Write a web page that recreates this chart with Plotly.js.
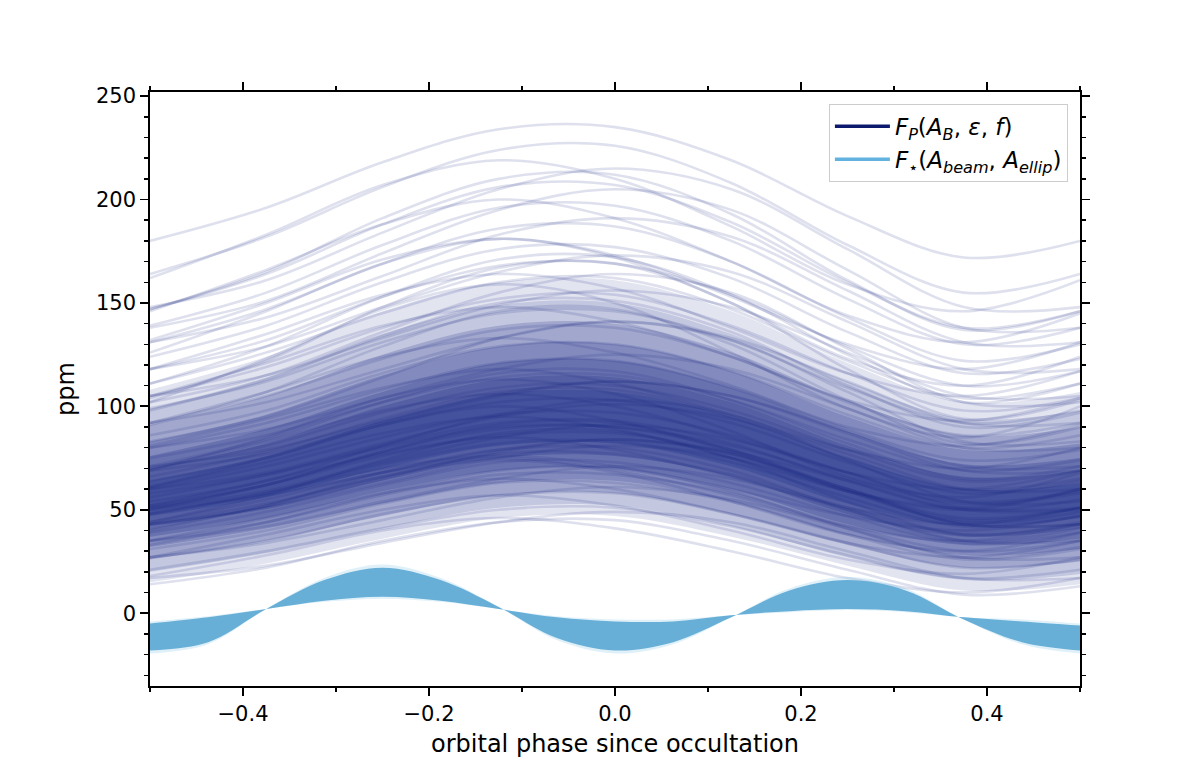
<!DOCTYPE html>
<html><head><meta charset="utf-8">
<script src="https://cdn.plot.ly/plotly-3.0.1.min.js"></script>
<style>html,body{margin:0;padding:0;background:#fff}#chart{width:1200px;height:771px}</style>
</head><body><div id="chart"></div>
<script>
// orbital phase sample points for the planet curves
const phase = [-0.5, -0.375, -0.25, -0.125, 0, 0.125, 0.25, 0.375, 0.5];

// planet phase-curve samples (ppm), sparse upper part
const planetHigh = [
[180, 196, 218, 234, 235, 219, 192, 172, 180],
[164, 182, 206, 224, 226, 208, 178, 155, 164],
[162, 183, 207, 219, 210, 187, 159, 146, 161],
[148, 161, 184, 205, 215, 205, 176, 148, 148],
[147, 165, 191, 210, 212, 193, 161, 137, 146],
[147, 164, 188, 206, 207, 189, 160, 138, 146],
[138, 151, 174, 195, 205, 195, 166, 138, 138],
[146, 166, 188, 200, 191, 170, 144, 131, 145],
[139, 155, 178, 196, 197, 180, 152, 130, 138],
[131, 143, 163, 183, 191, 182, 156, 131, 131],
[131, 147, 169, 186, 187, 170, 143, 122, 130],
[132, 150, 171, 181, 173, 153, 130, 118, 131],
[126, 146, 169, 181, 172, 150, 123, 110, 124],
[124, 139, 160, 176, 177, 162, 136, 116, 123],
[118, 129, 148, 165, 173, 165, 141, 118, 118],
[111, 129, 153, 171, 172, 154, 125, 102, 111],
[118, 132, 153, 168, 169, 154, 129, 110, 117],
[104, 122, 148, 167, 169, 150, 118, 94, 103],
[118, 135, 154, 164, 157, 138, 116, 105, 117],
[102, 115, 136, 155, 164, 155, 128, 102, 102],
[111, 126, 145, 160, 162, 147, 122, 104, 111],
[102, 123, 147, 159, 150, 126, 99, 85, 100],
[105, 115, 133, 149, 156, 148, 126, 105, 105],
[105, 119, 138, 152, 154, 139, 116, 98, 104],
[98, 113, 134, 150, 151, 136, 110, 90, 97],
[105, 121, 139, 148, 141, 124, 103, 93, 104],
[91, 107, 129, 146, 147, 130, 103, 82, 90],
[99, 112, 131, 145, 146, 132, 109, 92, 98],
[83, 95, 114, 133, 141, 132, 107, 83, 83],
[92, 102, 118, 133, 141, 133, 112, 92, 92]
];
// planet samples, middle of the distribution
const planetMid = [
[92, 105, 123, 137, 138, 124, 102, 86, 92],
[92, 107, 124, 133, 126, 110, 90, 81, 91],
[86, 98, 116, 129, 130, 117, 96, 80, 86],
[80, 89, 104, 118, 125, 118, 99, 80, 80],
[80, 92, 108, 121, 122, 109, 89, 74, 79],
[81, 94, 109, 118, 111, 96, 79, 70, 80],
[75, 86, 102, 114, 115, 103, 84, 69, 74],
[69, 77, 92, 105, 112, 105, 87, 69, 69],
[70, 81, 97, 109, 110, 98, 79, 64, 69],
[70, 83, 98, 106, 100, 85, 68, 60, 69],
[64, 75, 91, 102, 103, 92, 73, 58, 64],
[60, 68, 82, 95, 101, 94, 77, 60, 60],
[60, 71, 85, 96, 97, 86, 68, 54, 59],
[61, 73, 87, 95, 89, 75, 59, 51, 60],
[56, 67, 81, 92, 93, 82, 64, 50, 55],
[71, 79, 93, 106, 112, 105, 88, 71, 71],
[66, 78, 94, 107, 108, 95, 75, 60, 65],
[61, 75, 91, 100, 93, 78, 59, 50, 60],
[58, 67, 80, 90, 90, 81, 65, 53, 58],
[69, 85, 104, 113, 106, 88, 66, 56, 68],
[71, 84, 102, 116, 117, 103, 82, 65, 71],
[54, 64, 81, 96, 103, 96, 74, 54, 54]
];
// planet samples, lower part
const planetLow = [
[51, 59, 73, 85, 91, 84, 68, 51, 51],
[52, 62, 76, 86, 87, 77, 60, 46, 51],
[52, 64, 77, 85, 79, 66, 51, 43, 51],
[48, 58, 72, 82, 83, 73, 56, 42, 47],
[43, 51, 63, 75, 81, 75, 59, 43, 43],
[43, 53, 66, 77, 77, 67, 51, 38, 43],
[44, 55, 68, 75, 69, 57, 42, 35, 43],
[39, 49, 62, 73, 73, 63, 47, 34, 39],
[35, 42, 54, 65, 71, 65, 50, 35, 35],
[35, 44, 57, 67, 67, 58, 42, 30, 35],
[35, 46, 58, 65, 60, 48, 34, 27, 35],
[31, 40, 53, 63, 63, 54, 38, 26, 31],
[27, 34, 45, 56, 61, 55, 41, 27, 27],
[27, 35, 48, 57, 58, 48, 34, 22, 26],
[27, 38, 50, 57, 52, 40, 26, 19, 27],
[21, 30, 41, 50, 51, 42, 28, 17, 21],
[17, 23, 34, 44, 49, 44, 30, 17, 17],
[18, 28, 40, 46, 41, 30, 17, 10, 17],
[14, 22, 35, 44, 45, 35, 21, 9, 13],
[51, 62, 78, 89, 90, 79, 60, 45, 51],
[43, 51, 65, 78, 84, 77, 60, 43, 43],
[41, 52, 68, 79, 80, 69, 50, 35, 41],
[40, 52, 66, 74, 68, 54, 38, 30, 39],
[50, 62, 78, 91, 92, 79, 59, 44, 49],
[50, 57, 68, 79, 84, 78, 64, 50, 50],
[44, 57, 74, 87, 88, 75, 54, 38, 44],
[33, 44, 58, 69, 70, 59, 41, 27, 32],
[48, 58, 70, 76, 71, 60, 47, 40, 47]
];

// density envelopes of the planet curves (nested, outer to inner)
const densityLo = [
[15, 24, 36, 46, 47, 37, 23, 11, 14],
[20, 29, 41, 51, 52, 42, 27, 16, 19],
[26, 35, 47, 57, 58, 48, 33, 22, 25],
[32, 41, 53, 63, 64, 54, 38, 28, 31],
[37, 46, 59, 69, 70, 60, 43, 33, 36],
[42, 51, 64, 75, 76, 66, 48, 37, 41],
[47, 56, 70, 81, 82, 71, 53, 42, 46]
];
const densityHi = [
[108, 124, 146, 160, 161, 146, 121, 102, 107],
[99, 114, 135, 149, 150, 135, 112, 94, 98],
[91, 105, 125, 139, 140, 126, 103, 86, 90],
[83, 96, 115, 129, 130, 117, 95, 79, 82],
[76, 89, 107, 121, 122, 109, 88, 72, 75],
[70, 82, 100, 113, 114, 102, 81, 66, 69],
[64, 76, 93, 106, 107, 95, 75, 60, 63]
];
const densityAlpha = [0.12, 0.15, 0.19, 0.21, 0.23, 0.23, 0.23];

// stellar (beaming + ellipsoidal) curves
const starPhase = [-0.5, -0.4375, -0.375, -0.3125, -0.25, -0.1875, -0.125, -0.0625, 0, 0.0625, 0.125, 0.1875, 0.25, 0.3125, 0.375, 0.4375, 0.5];
const starBigAmp   = [-18, -14, 2, 16, 22, 16, 3, -12, -18, -14, -2, 11, 16, 11, -3, -14, -18];
const starSmallAmp = [-5, -2, 2, 6, 8, 6, 2, -2, -4, -4, -1, 1, 2, 1, -2, -4, -6];
const starFringeBig   = [-19.5, -15, 2, 17, 23.5, 17, 3, -13, -19.5, -15, -2, 12, 17.5, 12, -3, -15, -19.5];
const starFringeSmall = [-4, -1.5, 2, 5.5, 7, 5.5, 2, -1.5, -3, -3, -1, 0.5, 1.5, 0.5, -2, -3, -5];

const legendLabels = [
  '<i>F</i><sub><i>P</i></sub>(<i>A</i><sub><i>B</i></sub>, <i>ε</i>, <i>f</i>)',
  '<i>F</i><sub>⋆</sub>(<i>A</i><sub><i>beam</i></sub>, <i>A</i><sub><i>ellip</i></sub>)'
];

const navyRGB = '18,34,130';
const traces = [];
function band(lo, hi, xs, fillcolor) {
  traces.push({x: xs, y: lo, type: 'scatter', mode: 'lines', line: {width: 0, shape: 'spline'}, hoverinfo: 'skip', showlegend: false});
  traces.push({x: xs, y: hi, type: 'scatter', mode: 'lines', line: {width: 0, shape: 'spline'}, fill: 'tonexty', fillcolor: fillcolor, hoverinfo: 'skip', showlegend: false});
}
densityLo.forEach((lo, i) => band(lo, densityHi[i], phase, 'rgba(' + navyRGB + ',' + densityAlpha[i] + ')'));

[planetHigh, planetMid, planetLow].forEach(group => group.forEach(vals => {
  traces.push({x: phase, y: vals, type: 'scatter', mode: 'lines', line: {color: 'rgba(' + navyRGB + ',0.14)', width: 2.6, shape: 'spline'}, hoverinfo: 'skip', showlegend: false});
}));

// stellar band: faint fringe then solid core
band(starFringeSmall, starFringeBig, starPhase, 'rgba(110,185,228,0.22)');
band(starSmallAmp, starBigAmp, starPhase, 'rgb(103,175,215)');

// legend entries
traces.push({x: [null], y: [null], type: 'scatter', mode: 'lines', name: legendLabels[0], legendgroup: 'p', line: {color: 'rgb(12,26,110)', width: 3.5}});
traces.push({x: [null], y: [null], type: 'scatter', mode: 'lines', name: legendLabels[1], legendgroup: 's', line: {color: 'rgb(98,178,224)', width: 3.5}});

const axisCommon = {
  showline: true, linecolor: 'black', linewidth: 1.8, mirror: 'allticks',
  ticks: 'outside', ticklen: 8, tickwidth: 1.8, tickcolor: 'black',
  showgrid: false, zeroline: false,
  tickfont: {family: 'DejaVu Sans', size: 21, color: 'black'}
};

const layout = {
  width: 1200, height: 771,
  margin: {l: 150, r: 120, t: 92, b: 85},
  paper_bgcolor: 'white', plot_bgcolor: 'white',
  showlegend: true,
  legend: {x: 0.987, y: 0.98, xanchor: 'right', yanchor: 'top', traceorder: 'normal', tracegroupgap: 5,
    bgcolor: 'rgba(255,255,255,0.85)', bordercolor: '#cccccc', borderwidth: 1,
    font: {family: 'DejaVu Sans', size: 23, color: 'black'}, itemwidth: 55},
  xaxis: Object.assign({}, axisCommon, {
    range: [-0.5, 0.5], tickmode: 'array', tickvals: [-0.4, -0.2, 0, 0.2, 0.4], ticktext: ['−0.4', '−0.2', '0.0', '0.2', '0.4'],
    minor: {ticks: 'outside', ticklen: 4.5, tickwidth: 1.5, tickcolor: 'black', tickvals: [-0.5, -0.3, -0.1, 0.1, 0.3, 0.5], showgrid: false},
    title: {text: 'orbital phase since occultation', font: {family: 'DejaVu Sans', size: 24, color: 'black'}, standoff: 10}
  }),
  yaxis: Object.assign({}, axisCommon, {
    range: [-35.2, 252], tickmode: 'array', tickvals: [0, 50, 100, 150, 200, 250],
    minor: {ticks: 'outside', ticklen: 4.5, tickwidth: 1.5, tickcolor: 'black', dtick: 10, tick0: 0, showgrid: false},
    title: {text: 'ppm', font: {family: 'DejaVu Sans', size: 24, color: 'black'}, standoff: 14}
  })
};

Plotly.newPlot('chart', traces, layout, {staticPlot: true, displayModeBar: false});
</script></body></html>
